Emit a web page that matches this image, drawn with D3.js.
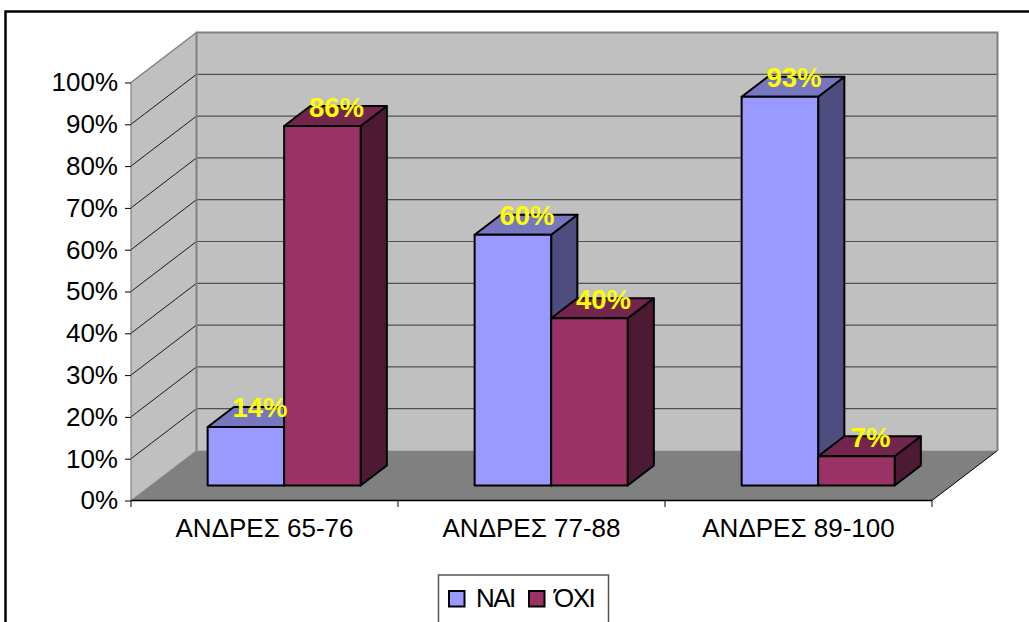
<!DOCTYPE html>
<html>
<head>
<meta charset="utf-8">
<script src="https://cdn.jsdelivr.net/npm/d3@7"></script>
<style>
  html, body { margin: 0; padding: 0; background: #fff; overflow: hidden; }
  svg { display: block; font-family: "Liberation Sans", Arial, sans-serif; }
</style>
</head>
<body>
<svg id="chart" width="1029" height="622"></svg>
<script>
// Survey shares by age group, in percent
const categories = ["ΑΝΔΡΕΣ 65-76", "ΑΝΔΡΕΣ 77-88", "ΑΝΔΡΕΣ 89-100"];
const seriesNames = ["ΝΑΙ", "ΌΧΙ"];
const yesValues = [14, 60, 93];
const noValues = [86, 40, 7];
const percentTicks = [0, 10, 20, 30, 40, 50, 60, 70, 80, 90, 100];

// Face colours: front, top, side
const palette = [
  { front: "#9999ff", top: "#7777bf", side: "#4d4d80" },
  { front: "#993366", top: "#73264d", side: "#4d1a33" }
];

const svg = d3.select("#chart");
const x = d3.scaleBand().domain(categories).range([131, 932]);
const y = d3.scaleLinear().domain([0, 100]).range([500.5, 82.5]);
const depthX = d3.scaleLinear().domain([0, 1]).range([0, 65.5]);
const depthY = d3.scaleLinear().domain([0, 1]).range([0, -50]);

// Oblique projection: horizontal position, value, depth into the box
const project = (px, v, z) => [px + depthX(z), y(v) + depthY(z)];
const line = d3.line();
const polygon = pts => line(pts) + "Z";

// Outer frame: open on the right and at the bottom
svg.append("path")
  .attr("d", "M5.5,622V11.5H1029")
  .attr("fill", "none").attr("stroke", "#000").attr("stroke-width", 2.5);

const [x0, x1] = x.range();

// Back wall, side wall, floor
svg.append("path").attr("fill", "#c0c0c0")
  .attr("d", polygon([project(x0, 0, 1), project(x1, 0, 1), project(x1, 100, 1), project(x0, 100, 1)]));
svg.append("path").attr("fill", "#c0c0c0")
  .attr("d", polygon([project(x0, 0, 0), project(x0, 0, 1), project(x0, 100, 1), project(x0, 100, 0)]));
svg.append("path").attr("fill", "#808080")
  .attr("d", polygon([project(x0, 0, 0), project(x1, 0, 0), project(x1, 0, 1), project(x0, 0, 1)]));

// Gridlines across the back wall and down the side wall
const grid = svg.append("g").attr("fill", "none");
grid.selectAll(".back").data(percentTicks.filter(t => t > 0 && t < 100)).join("path")
  .attr("class", "back").attr("stroke", "#505050").attr("stroke-width", 1.2)
  .attr("d", t => line([project(x0, t, 1), project(x1, t, 1)]));
grid.selectAll(".side").data(percentTicks.filter(t => t > 0 && t < 100)).join("path")
  .attr("class", "side").attr("stroke", "#1a1a1a").attr("stroke-width", 1)
  .attr("d", t => line([project(x0, t, 0), project(x0, t, 1)]));

// Wall outlines
svg.append("path").attr("fill", "none").attr("stroke", "#808080").attr("stroke-width", 2)
  .attr("d", line([project(x0, 0, 1), project(x0, 100, 1), project(x1, 100, 1), project(x1, 0, 1)]));
svg.append("path").attr("fill", "none").attr("stroke", "#808080").attr("stroke-width", 1.5)
  .attr("d", line([project(x0, 100, 1), project(x0, 100, 0)]));
svg.append("path").attr("fill", "none").attr("stroke", "#8c8c8c").attr("stroke-width", 1)
  .attr("d", line([project(x0, 0, 0), project(x0, 0, 1)]));
svg.append("path").attr("fill", "none").attr("stroke", "#000").attr("stroke-width", 1)
  .attr("d", line([project(x1, 0, 0), project(x1, 0, 1)]));
svg.append("path").attr("fill", "none").attr("stroke", "#6e6e6e").attr("stroke-width", 1)
  .attr("d", line([project(x0, 0, 0), project(x0, 100, 0)]));

// Bars: two series side by side in each band, sitting mid-depth
const series = [yesValues, noValues];
const barWidth = x.bandwidth() / 3.49;
const zFront = 0.3, zBack = 0.7;
const bars = categories.flatMap((c, i) => series.map((vals, s) => {
  const left = x(c) + x.bandwidth() / 2 + (s - 1) * barWidth;
  return { v: vals[i], s, left, right: left + barWidth };
}));

const barGroups = svg.append("g").selectAll("g").data(bars).join("g")
  .attr("stroke", "#000").attr("stroke-width", 2).attr("stroke-linejoin", "round");
barGroups.append("path").attr("fill", d => palette[d.s].side)
  .attr("d", d => polygon([project(d.right, 0, zFront), project(d.right, 0, zBack), project(d.right, d.v, zBack), project(d.right, d.v, zFront)]));
barGroups.append("path").attr("fill", d => palette[d.s].top)
  .attr("d", d => polygon([project(d.left, d.v, zFront), project(d.right, d.v, zFront), project(d.right, d.v, zBack), project(d.left, d.v, zBack)]));
barGroups.append("path").attr("fill", d => palette[d.s].front)
  .attr("d", d => polygon([project(d.left, 0, zFront), project(d.right, 0, zFront), project(d.right, d.v, zFront), project(d.left, d.v, zFront)]));

// Value labels over the bar tops
svg.append("g").selectAll("text").data(bars).join("text")
  .attr("x", d => project((d.left + d.right) / 2, d.v, 0.5)[0] + 1)
  .attr("y", d => project(d.left, d.v, zFront)[1] - 9.5)
  .attr("text-anchor", "middle").attr("fill", "#ffff00")
  .attr("font-size", 27.5).attr("font-weight", "bold")
  .text(d => d.v + "%");

// Percent axis
const yAxis = d3.axisLeft(y).tickValues(percentTicks).tickFormat(d => d + "%").tickSize(6).tickSizeOuter(0).tickPadding(7);
const yG = svg.append("g").attr("transform", `translate(${x0},0)`).call(yAxis);
yG.select(".domain").remove();
yG.selectAll("line").attr("stroke", "#000");
yG.selectAll("text").attr("font-size", 26).attr("fill", "#000").attr("font-family", "inherit");

// Category axis: ticks sit on the band edges, labels in the band centres
const xEdges = categories.map(c => x(c)).concat(x1);
svg.append("path").attr("fill", "none").attr("stroke", "#000").attr("stroke-width", 1.5)
  .attr("d", line([[x0, y(0)], [x1, y(0)]]));
svg.append("g").selectAll("line").data(xEdges).join("line")
  .attr("x1", d => d).attr("x2", d => d)
  .attr("y1", y(0)).attr("y2", y(0) + 6.5)
  .attr("stroke", "#000");
const xG = svg.append("g").attr("transform", `translate(0,${y(0)})`)
  .call(d3.axisBottom(x).tickSize(0).tickPadding(18));
xG.select(".domain").remove();
xG.selectAll("text").attr("font-size", 26).attr("fill", "#000").attr("font-family", "inherit").attr("dy", "0.71em");

// Legend box, clipped by the bottom of the page
const legend = svg.append("g");
legend.append("path").attr("d", "M438.5,622V575H608.5V622")
  .attr("fill", "#fff").attr("stroke", "#555").attr("stroke-width", 1.5);
const swatchX = [449, 529], labelX = [476, 554];
seriesNames.forEach((name, s) => {
  legend.append("rect").attr("x", swatchX[s]).attr("y", 591).attr("width", 15.5).attr("height", 15.5)
    .attr("fill", palette[s].front).attr("stroke", "#000").attr("stroke-width", 2);
  legend.append("text").attr("x", labelX[s]).attr("y", 607).attr("font-size", 26).attr("fill", "#000")
    .attr("letter-spacing", "-1.5px").text(name);
});
</script>
</body>
</html>
